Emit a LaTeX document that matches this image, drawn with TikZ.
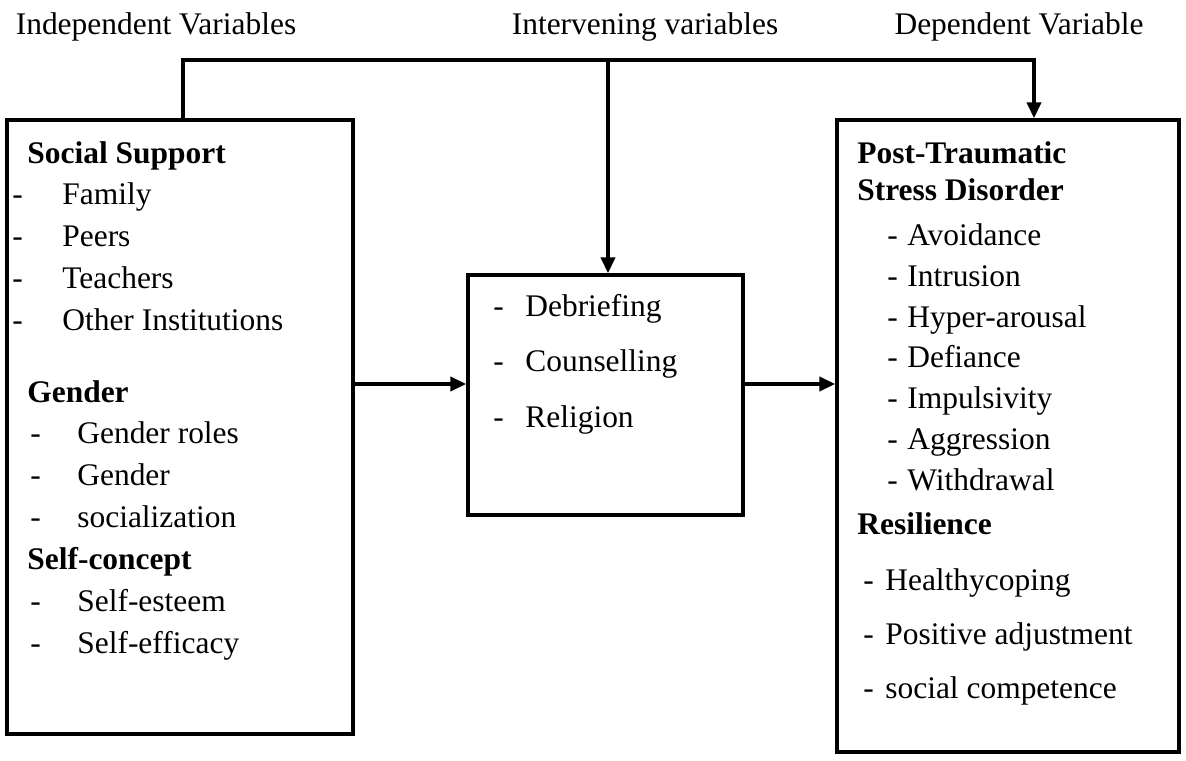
\documentclass[tikz,border=0pt]{standalone}
\usepackage{fontspec}
\setmainfont{Liberation Serif}
\usetikzlibrary{arrows.meta}

\newcommand{\itm}[2]{\makebox[#1][l]{-}#2}

\begin{document}
\begin{tikzpicture}[
    box/.style={draw, line width=2pt, inner sep=0pt},
    txt/.style={anchor=base west, align=left, inner sep=0pt, font=\fontsize{17.9}{23.8}\selectfont},
    head/.style={anchor=base, inner sep=0pt, font=\fontsize{17.9}{21}\selectfont},
    conn/.style={line width=1.9pt},
    >={Triangle[width=8pt,length=9pt]}
  ]
  \useasboundingbox (0,0) rectangle (23.72,15.2);

  % headings
  \node (indep) [head] at (3.12,14.5) {Independent Variables};
  \node (interv) [head] at (12.9,14.5) {Intervening variables};
  \node (dep) [head] at (20.38,14.5) {Dependent Variable};

  % boxes
  \node (lbox) [box, minimum width=6.92cm, minimum height=12.28cm] at (3.6,6.66) {};
  \node (mid) [box, minimum width=5.5cm, minimum height=4.8cm] at (12.11,7.3) {};
  \node (rbox) [box, minimum width=6.84cm, minimum height=12.64cm] at (20.16,6.48) {};

  % box contents (placed at the baseline of the last line)
  \node (ltext) [txt] at (0.24,2.14) {%
    \hspace*{0.3cm}\textbf{Social Support}\\
    \itm{1cm}{Family}\\
    \itm{1cm}{Peers}\\
    \itm{1cm}{Teachers}\\
    \itm{1cm}{Other Institutions}\\[17pt]
    \hspace*{0.3cm}\textbf{Gender}\\
    \hspace*{0.36cm}\itm{0.94cm}{Gender roles}\\
    \hspace*{0.36cm}\itm{0.94cm}{Gender}\\
    \hspace*{0.36cm}\itm{0.94cm}{socialization}\\
    \hspace*{0.3cm}\textbf{Self-concept}\\
    \hspace*{0.36cm}\itm{0.94cm}{Self-esteem}\\
    \hspace*{0.36cm}\itm{0.94cm}{Self-efficacy}};
  \node (mtext) [txt] at (9.86,6.66) {%
    \itm{0.64cm}{Debriefing}\\[7.5pt]
    \itm{0.64cm}{Counselling}\\[7.5pt]
    \itm{0.64cm}{Religion}};
  \node (rtext) [txt] at (17.14,1.24) {%
    \textbf{Post-Traumatic}\\[-2.7pt]
    \textbf{Stress Disorder}\\[1.8pt]
    \hspace*{0.6cm}\itm{0.4cm}{Avoidance}\\[-0.5pt]
    \hspace*{0.6cm}\itm{0.4cm}{Intrusion}\\[-0.5pt]
    \hspace*{0.6cm}\itm{0.4cm}{Hyper-arousal}\\[-0.5pt]
    \hspace*{0.6cm}\itm{0.4cm}{Defiance}\\[-0.5pt]
    \hspace*{0.6cm}\itm{0.4cm}{Impulsivity}\\[-0.5pt]
    \hspace*{0.6cm}\itm{0.4cm}{Aggression}\\[-0.5pt]
    \hspace*{0.6cm}\itm{0.4cm}{Withdrawal}\\[1.3pt]
    \textbf{Resilience}\\[8.1pt]
    \hspace*{0.12cm}\itm{0.44cm}{Healthycoping}\\[6.9pt]
    \hspace*{0.12cm}\itm{0.44cm}{Positive adjustment}\\[6.4pt]
    \hspace*{0.12cm}\itm{0.44cm}{social competence}};

  % edges
  \coordinate (jl) at (3.66,14.0);
  \coordinate (jm) at (12.16,14.0);
  \coordinate (jr) at (20.68,14.0);
  \coordinate (lvl) at (0,7.52);

  \draw[conn, ->] (lbox.north -| jl) -- (jl) -- (jr) -- (jr |- rbox.north);
  \draw[conn, ->] (jm) -- (jm |- mid.north);
  \draw[conn, ->] (lbox.east |- lvl) -- (mid.west |- lvl);
  \draw[conn, ->] (mid.east |- lvl) -- (rbox.west |- lvl);
\end{tikzpicture}
\end{document}
